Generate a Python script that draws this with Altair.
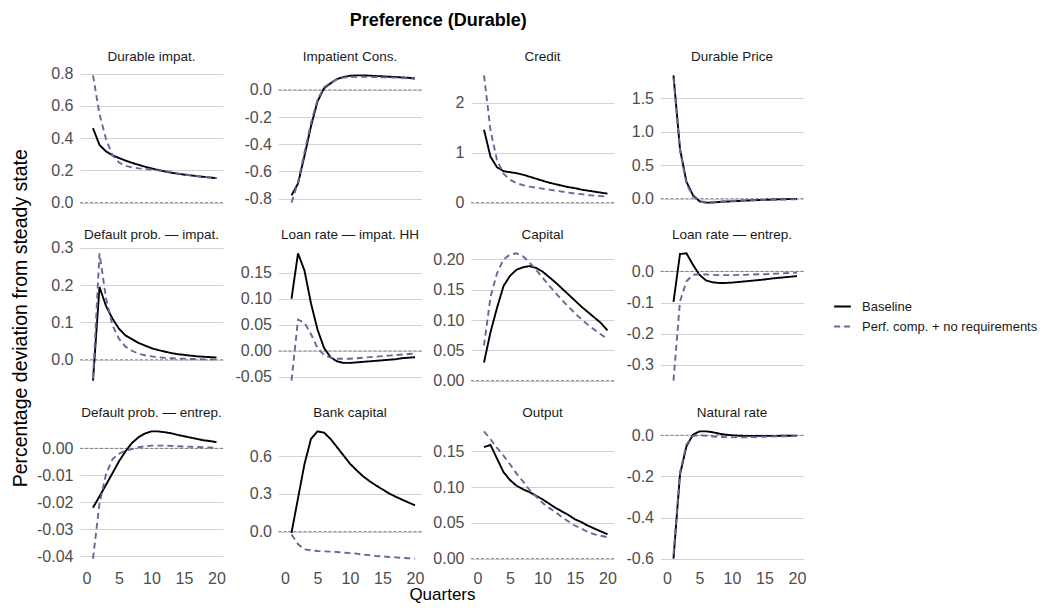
import altair as alt
import pandas as pd

FONT = "Liberation Sans"

quarters = list(range(1, 21))
series_names = ["Baseline", "Perf. comp. + no requirements"]

panel_titles = [
    "Durable impat.", "Impatient Cons.", "Credit", "Durable Price",
    "Default prob. \u2014 impat.", "Loan rate \u2014 impat. HH", "Capital", "Loan rate \u2014 entrep.",
    "Default prob. \u2014 entrep.", "Bank capital", "Output", "Natural rate",
]

durable_impat_base = [0.462, 0.358, 0.318, 0.294, 0.277, 0.261, 0.247, 0.235, 0.223, 0.213, 0.203, 0.194, 0.186, 0.180, 0.174, 0.170, 0.164, 0.160, 0.156, 0.152]
durable_impat_alt = [0.790, 0.550, 0.395, 0.294, 0.249, 0.229, 0.219, 0.213, 0.209, 0.205, 0.200, 0.196, 0.190, 0.182, 0.176, 0.170, 0.166, 0.160, 0.156, 0.152]

imp_cons_base = [-0.776, -0.690, -0.485, -0.267, -0.085, 0.012, 0.048, 0.080, 0.095, 0.104, 0.107, 0.107, 0.105, 0.102, 0.100, 0.097, 0.095, 0.092, 0.089, 0.085]
imp_cons_alt = [-0.830, -0.680, -0.460, -0.243, -0.073, 0.019, 0.053, 0.078, 0.090, 0.095, 0.097, 0.097, 0.095, 0.095, 0.092, 0.092, 0.090, 0.087, 0.085, 0.082]

credit_base = [1.46, 0.92, 0.71, 0.63, 0.61, 0.59, 0.56, 0.52, 0.48, 0.44, 0.40, 0.37, 0.34, 0.31, 0.29, 0.26, 0.24, 0.22, 0.20, 0.18]
credit_alt = [2.55, 1.45, 0.85, 0.58, 0.46, 0.39, 0.35, 0.32, 0.30, 0.28, 0.26, 0.24, 0.22, 0.20, 0.18, 0.17, 0.15, 0.14, 0.13, 0.12]

dprice_base = [1.84, 0.74, 0.25, 0.05, -0.04, -0.06, -0.06, -0.05, -0.045, -0.04, -0.035, -0.03, -0.026, -0.022, -0.018, -0.015, -0.012, -0.009, -0.007, -0.005]
dprice_alt = [1.80, 0.72, 0.22, 0.03, -0.04, -0.05, -0.05, -0.045, -0.04, -0.035, -0.03, -0.027, -0.024, -0.021, -0.018, -0.016, -0.014, -0.012, -0.011, -0.010]

defimp_base = [-0.056, 0.195, 0.144, 0.110, 0.083, 0.065, 0.055, 0.045, 0.038, 0.031, 0.026, 0.022, 0.018, 0.015, 0.013, 0.011, 0.009, 0.008, 0.007, 0.006]
defimp_alt = [-0.050, 0.285, 0.165, 0.092, 0.056, 0.035, 0.024, 0.016, 0.012, 0.009, 0.007, 0.005, 0.004, 0.003, 0.003, 0.002, 0.002, 0.001, 0.001, 0.001]

lrimp_base = [0.100, 0.187, 0.154, 0.091, 0.041, 0.006, -0.012, -0.020, -0.023, -0.023, -0.022, -0.021, -0.020, -0.019, -0.018, -0.017, -0.016, -0.014, -0.013, -0.012]
lrimp_alt = [-0.057, 0.060, 0.054, 0.032, 0.006, -0.008, -0.013, -0.015, -0.015, -0.015, -0.014, -0.013, -0.012, -0.011, -0.010, -0.009, -0.008, -0.007, -0.006, -0.005]

capital_base = [0.030, 0.080, 0.120, 0.156, 0.173, 0.183, 0.187, 0.189, 0.186, 0.180, 0.171, 0.162, 0.152, 0.142, 0.132, 0.122, 0.113, 0.104, 0.095, 0.083]
capital_alt = [0.058, 0.138, 0.177, 0.200, 0.208, 0.210, 0.205, 0.195, 0.183, 0.170, 0.157, 0.145, 0.133, 0.122, 0.111, 0.101, 0.092, 0.084, 0.076, 0.069]

lrent_base = [-0.098, 0.056, 0.058, 0.021, -0.011, -0.029, -0.035, -0.037, -0.037, -0.036, -0.034, -0.032, -0.030, -0.028, -0.026, -0.023, -0.021, -0.019, -0.017, -0.015]
lrent_alt = [-0.351, -0.096, -0.032, -0.011, -0.009, -0.010, -0.011, -0.012, -0.012, -0.012, -0.011, -0.011, -0.010, -0.009, -0.009, -0.008, -0.007, -0.006, -0.005, -0.004]

defent_base = [-0.0220, -0.0178, -0.0135, -0.0092, -0.0048, -0.0011, 0.0020, 0.0041, 0.0055, 0.0063, 0.0063, 0.0060, 0.0056, 0.0050, 0.0045, 0.0040, 0.0035, 0.0030, 0.0027, 0.0023]
defent_alt = [-0.0409, -0.0205, -0.0095, -0.0040, -0.0020, -0.0009, -0.0003, 0.0004, 0.0008, 0.0010, 0.0010, 0.0010, 0.0009, 0.0008, 0.0007, 0.0006, 0.0005, 0.0004, 0.0003, 0.0002]

bank_base = [-0.010, 0.265, 0.540, 0.740, 0.800, 0.790, 0.740, 0.674, 0.608, 0.542, 0.490, 0.442, 0.403, 0.368, 0.337, 0.305, 0.279, 0.255, 0.232, 0.210]
bank_alt = [-0.024, -0.100, -0.142, -0.150, -0.155, -0.158, -0.160, -0.163, -0.168, -0.172, -0.176, -0.184, -0.188, -0.195, -0.198, -0.203, -0.206, -0.210, -0.213, -0.216]

output_base = [0.156, 0.159, 0.140, 0.121, 0.110, 0.102, 0.097, 0.093, 0.088, 0.083, 0.077, 0.071, 0.066, 0.061, 0.055, 0.051, 0.046, 0.042, 0.038, 0.034]
output_alt = [0.178, 0.167, 0.155, 0.144, 0.132, 0.119, 0.108, 0.096, 0.087, 0.078, 0.071, 0.065, 0.058, 0.052, 0.046, 0.042, 0.037, 0.034, 0.032, 0.030]

natrate_base = [-0.600, -0.190, -0.053, 0.003, 0.019, 0.019, 0.015, 0.008, 0.003, 0.000, -0.002, -0.003, -0.003, -0.003, -0.003, -0.003, -0.003, -0.002, -0.002, -0.002]
natrate_alt = [-0.580, -0.180, -0.045, -0.003, 0.000, -0.002, -0.006, -0.008, -0.009, -0.010, -0.010, -0.010, -0.009, -0.008, -0.007, -0.006, -0.005, -0.005, -0.004, -0.004]

series_data = [
    (durable_impat_base, durable_impat_alt), (imp_cons_base, imp_cons_alt),
    (credit_base, credit_alt), (dprice_base, dprice_alt),
    (defimp_base, defimp_alt), (lrimp_base, lrimp_alt),
    (capital_base, capital_alt), (lrent_base, lrent_alt),
    (defent_base, defent_alt), (bank_base, bank_alt),
    (output_base, output_alt), (natrate_base, natrate_alt),
]

tick_values = [
    [0, 0.2, 0.4, 0.6, 0.8], [-0.8, -0.6, -0.4, -0.2, 0.0], [0, 1, 2], [0, 0.5, 1.0, 1.5],
    [0, 0.1, 0.2, 0.3], [-0.05, 0, 0.05, 0.10, 0.15], [0, 0.05, 0.10, 0.15, 0.20], [-0.3, -0.2, -0.1, 0.0],
    [-0.04, -0.03, -0.02, -0.01, 0.0], [0, 0.3, 0.6], [0, 0.05, 0.10, 0.15], [-0.6, -0.4, -0.2, 0.0],
]
tick_formats = [".1f", ".1f", "d", ".1f", ".1f", ".2f", ".2f", ".1f", ".2f", ".1f", ".2f", ".1f"]
x_ticks = [0, 5, 10, 15, 20]

col_extent = [45, 46, 40, 37]

PW, PH = 143, 140
DASH_COLOR = "#6B6699"

color_scale = alt.Scale(domain=series_names, range=["#000000", DASH_COLOR])
dash_scale = alt.Scale(domain=series_names, range=[[1, 0], [6, 4]])
LEG_X, LEG_Y = 753, 228


def make_panel(i):
    base, alt_ = series_data[i]
    rows = []
    for q, b, a in zip(quarters, base, alt_):
        rows.append({"q": q, "value": b, "series": series_names[0]})
        rows.append({"q": q, "value": a, "series": series_names[1]})
    df = pd.DataFrame(rows)
    lo = min(min(base), min(alt_), 0.0)
    hi = max(max(base), max(alt_), 0.0)
    r = hi - lo
    dom = [lo - 0.05 * r, hi + 0.05 * r]
    fmt = tick_formats[i]
    yaxis = alt.Axis(
        values=tick_values[i],
        labelExpr=f"replace(format(datum.value, '{fmt}'), '\u2212', '-')",
        grid=True, gridColor="#d2d2d2", gridWidth=1.1,
        domain=False, ticks=False, title=None,
        labelFont=FONT, labelFontSize=16, labelColor="#4d4d4d", labelPadding=7,
        minExtent=col_extent[i % 4], maxExtent=col_extent[i % 4],
    )
    yscale = alt.Scale(domain=dom, nice=False, zero=False)
    if i >= 8:
        xaxis = alt.Axis(values=x_ticks, grid=False, domain=False, ticks=False, title=None,
                         labelFont=FONT, labelFontSize=16, labelColor="#4d4d4d", labelPadding=5)
    else:
        xaxis = None
    xenc = alt.X("q:Q", scale=alt.Scale(domain=[-1, 21], nice=False, zero=False), axis=xaxis)

    zero = alt.Chart(pd.DataFrame({"value": [0.0]})).mark_rule(
        color="#555555", strokeDash=[3, 2], strokeWidth=0.7
    ).encode(y=alt.Y("value:Q", scale=yscale, axis=yaxis))

    leg = alt.Legend(orient="none", legendX=LEG_X, legendY=LEG_Y, labelLimit=220)
    lines = alt.Chart(df).mark_line(strokeWidth=1.9).encode(
        x=xenc,
        y=alt.Y("value:Q", scale=yscale, axis=yaxis),
        color=alt.Color("series:N", scale=color_scale, title=None, legend=leg),
        strokeDash=alt.StrokeDash("series:N", scale=dash_scale, title=None, legend=leg),
        detail="series:N",
    )
    strip = alt.Chart(pd.DataFrame({"label": [panel_titles[i]]})).mark_text(
        font=FONT, fontSize=13.5, color="#1a1a1a", align="center", baseline="middle"
    ).encode(text="label:N", x=alt.value(PW / 2), y=alt.value(-12.5))
    return alt.layer(zero, lines, strip).properties(width=PW, height=PH)


panels = [make_panel(i) for i in range(12)]

grid = alt.concat(*panels, columns=4, spacing={"row": 16, "column": 6.5}).properties(
    align="each",
    title=alt.TitleParams("Quarters", orient="bottom", anchor="middle", fontSize=17,
                          fontWeight="normal", font=FONT, color="#000000", offset=1, dx=22),
)

mid = alt.hconcat(grid).properties(
    title=alt.TitleParams("Percentage deviation from steady state", orient="left", anchor="middle",
                          fontSize=19.5, fontWeight="normal", font=FONT, color="#000000", offset=4, dx=8),
)

chart = alt.vconcat(mid).properties(
    title=alt.TitleParams("Preference (Durable)", anchor="middle", fontSize=18, fontWeight="bold",
                          font=FONT, color="#000000", offset=20, dx=-86),
    padding={"left": 2, "top": 3, "right": 0, "bottom": 0},
).configure_view(stroke=None).configure_legend(
    labelFont=FONT, labelFontSize=13, labelColor="#1a1a1a", symbolType="stroke",
    symbolStrokeWidth=2, symbolSize=280, rowPadding=3, labelOffset=10,
).configure_concat(spacing=10)

chart.save("out.html", embed_options={"renderer": "svg", "actions": False})
